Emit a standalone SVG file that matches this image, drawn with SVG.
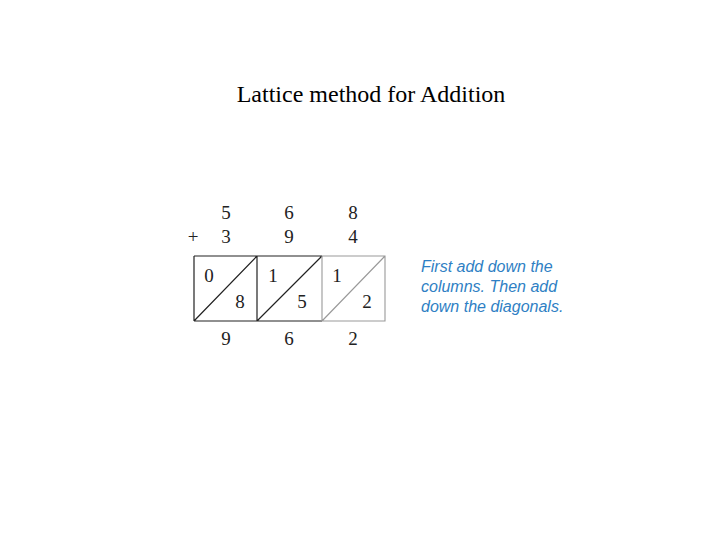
<svg xmlns="http://www.w3.org/2000/svg" width="720" height="540" viewBox="0 0 720 540">
<style>
.t{font-family:"Liberation Serif",serif;fill:#000}
.d{font-family:"Liberation Serif",serif;font-size:19px;fill:#222;text-anchor:middle}
.n{font-family:"Liberation Sans",sans-serif;font-style:italic;font-size:16px;fill:#2f7fc4}
.g{fill:none;stroke:#222;stroke-width:1.2}
.g2{fill:none;stroke:#999;stroke-width:1.1}
</style>
<rect width="720" height="540" fill="#fff"/>
<text class="t" x="371" y="102" font-size="24" text-anchor="middle">Lattice method for Addition</text>
<g id="addends">
<text class="d" x="226" y="219">5</text>
<text class="d" x="289" y="219">6</text>
<text class="d" x="353" y="219">8</text>
<text class="d" x="193" y="243" font-size="24">+</text>
<text class="d" x="226" y="243">3</text>
<text class="d" x="289" y="243">9</text>
<text class="d" x="353" y="243">4</text>
</g>
<g id="lattice">
<path class="g" d="M194,256 H322 M194,256 V321 M257,256 V321 M194,321 H322 M194,321 L257,256 M257,321 L322,256"/>
<path class="g2" d="M322,256 H385 V321 H322 M322,321 L385,256 M322,256 V321"/>
<text class="d" x="209" y="282">0</text>
<text class="d" x="240" y="308">8</text>
<text class="d" x="273" y="282">1</text>
<text class="d" x="302" y="308">5</text>
<text class="d" x="337" y="282">1</text>
<text class="d" x="367" y="308">2</text>
</g>
<g id="sums">
<text class="d" x="226" y="345">9</text>
<text class="d" x="289" y="345">6</text>
<text class="d" x="353" y="345">2</text>
</g>
<g id="note">
<text class="n" x="421" y="272">First add down the</text>
<text class="n" x="421" y="292">columns. Then add</text>
<text class="n" x="421" y="312">down the diagonals.</text>
</g>
</svg>
